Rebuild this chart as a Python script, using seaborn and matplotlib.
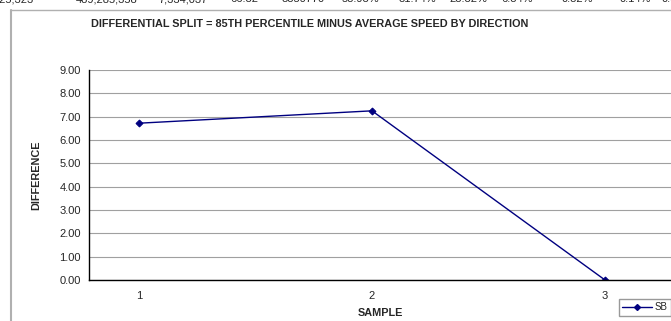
import matplotlib
matplotlib.use("Agg")
import matplotlib.pyplot as plt
import seaborn as sns
import pandas as pd
from matplotlib.lines import Line2D

samples = [1, 2, 3]
sb_values = [6.72, 7.25, 0.0]
y_ticks = [0, 1, 2, 3, 4, 5, 6, 7, 8, 9]
top_row = ["725,323", "489,285,358", "7,334,037", "66.32", "8350770",
           "58.93%", "31.74%", "23.32%", "6.84%", "0.82%", "0.14%", "0.00%"]
top_row_x = [14, 107, 183, 244, 303, 360, 417, 468, 517, 577, 635, 677]

sns.set_style("white")
plt.rcParams['font.family'] = ['Liberation Sans', 'DejaVu Sans']

df = pd.DataFrame({"SAMPLE": samples, "DIFFERENCE": sb_values, "dir": ["SB"] * 3})

fig = plt.figure(figsize=(6.71, 3.21), dpi=100)
ax = fig.add_axes([89 / 671, 41 / 321, (671 - 89) / 671, 210 / 321])

sns.lineplot(data=df, x="SAMPLE", y="DIFFERENCE", ax=ax, color="#000080",
             marker="D", markersize=3.5, markeredgecolor="#000080", linewidth=1,
             legend=False)

ax.set_xlim(1 - 50 / 233, 3 + 66 / 233)
ax.set_ylim(0, 9)
ax.set_yticks(y_ticks)
ax.set_yticklabels([f"{v:.2f}" for v in y_ticks], fontsize=8)
ax.set_xticks(samples)
ax.set_xticklabels([str(s) for s in samples], fontsize=8)
ax.tick_params(axis='y', length=3, color='#808080', pad=3)
ax.tick_params(axis='x', length=0, pad=8)
ax.grid(axis='y', color='#a0a0a0', linewidth=0.8)
ax.set_axisbelow(True)
for s in ['top', 'right']:
    ax.spines[s].set_visible(False)
for s in ['left', 'bottom']:
    ax.spines[s].set_color('black')
    ax.spines[s].set_linewidth(1)

ax.set_xlabel("SAMPLE", fontsize=7.8, fontweight='bold', labelpad=5)
ax.set_ylabel("DIFFERENCE", fontsize=7.8, fontweight='bold', labelpad=0)
ax.yaxis.set_label_coords(-48 / 582, 0.5)

fig.text(310 / 671, 1 - 24 / 321, "DIFFERENTIAL SPLIT = 85TH PERCENTILE MINUS AVERAGE SPEED BY DIRECTION",
         ha='center', va='center', fontsize=7.8, fontweight='bold')

# chart border fragments (gray)
fig.add_artist(Line2D([11 / 671, 11 / 671], [0, 1 - 10 / 321], color='#b0b0b0', linewidth=1.5,
                      transform=fig.transFigure))
fig.add_artist(Line2D([11 / 671, 1], [1 - 10 / 321, 1 - 10 / 321], color='#b0b0b0', linewidth=1,
                      transform=fig.transFigure))

# clipped table row above chart
for t, x in zip(top_row, top_row_x):
    fig.text(x / 671, 1 + 1 / 321, t, ha='center', va='center', fontsize=8, clip_on=False)

leg_handle = Line2D([], [], color="#000080", marker="D", markersize=3, linewidth=1)
ax.legend([leg_handle], ["SB"], loc='upper left', bbox_to_anchor=(619 / 671, 1 - 299 / 321),
          bbox_transform=fig.transFigure, fontsize=7, frameon=True, fancybox=False,
          edgecolor='#808080', handlelength=3, borderpad=0.35, borderaxespad=0,
          handletextpad=0.3)

fig.savefig("out.png", dpi=100)
